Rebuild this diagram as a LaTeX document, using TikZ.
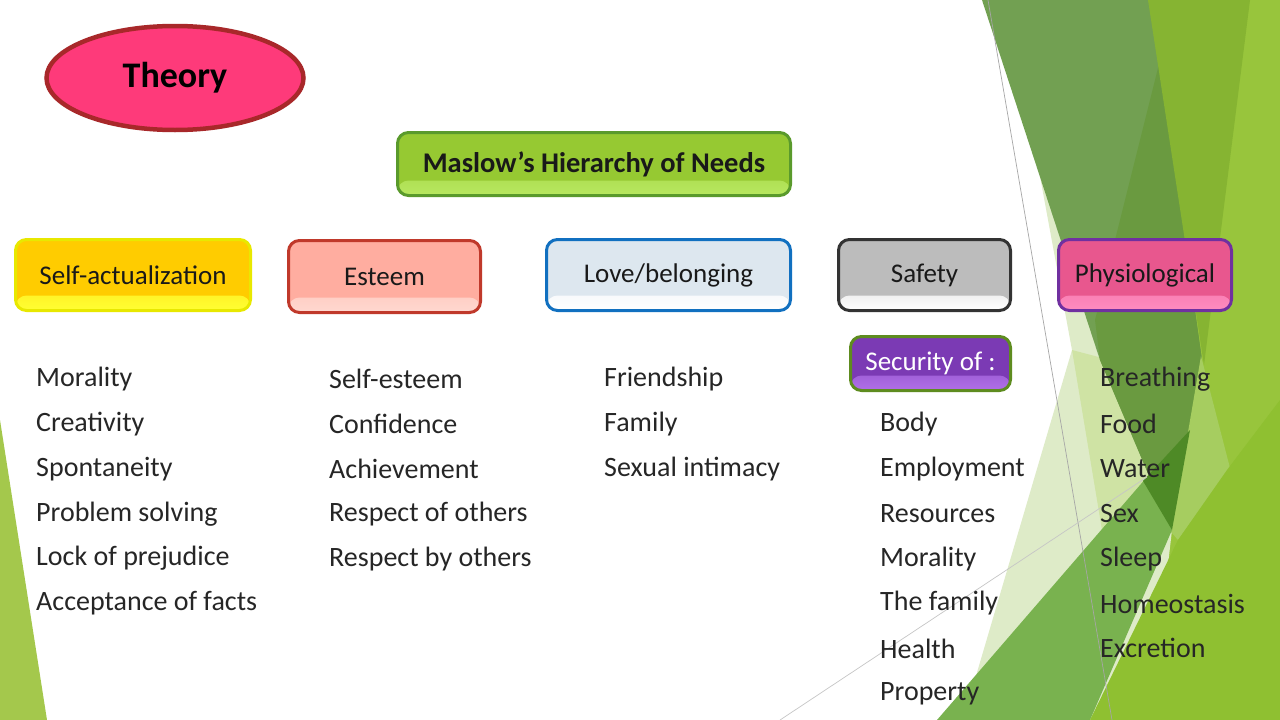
\documentclass[tikz,border=0pt]{standalone}
\usepackage{fontspec}
\setmainfont{Carlito}
\usetikzlibrary{shapes.geometric}

\definecolor{theoryfill}{HTML}{FE3A7A}
\definecolor{theoryline}{HTML}{A8282A}
\definecolor{maslowfill}{HTML}{96C932}
\definecolor{maslowline}{HTML}{5A9A2C}
\definecolor{maslowgloss}{HTML}{B8E860}
\definecolor{selffill}{HTML}{FFCC00}
\definecolor{selfline}{HTML}{E8E800}
\definecolor{selfgloss}{HTML}{FFFF33}
\definecolor{esteemfill}{HTML}{FFADA0}
\definecolor{esteemline}{HTML}{C0392B}
\definecolor{esteemgloss}{HTML}{FFD8D0}
\definecolor{lovefill}{HTML}{DDE7EF}
\definecolor{loveline}{HTML}{1170C0}
\definecolor{safetyfill}{HTML}{BCBCBC}
\definecolor{safetyline}{HTML}{333333}
\definecolor{physfill}{HTML}{E8578E}
\definecolor{physline}{HTML}{7030A0}
\definecolor{physgloss}{HTML}{FF8CC0}
\definecolor{securfill}{HTML}{7B3AB4}
\definecolor{securline}{HTML}{5E8C1F}
\definecolor{securgloss}{HTML}{B070E8}
\definecolor{facetleft}{HTML}{A4C84C}
\definecolor{facetpale}{HTML}{DEEBC8}
\definecolor{facetpaleb}{HTML}{CFE3A4}
\definecolor{facetgray}{HTML}{72A052}
\definecolor{facetdark}{HTML}{6A9A40}
\definecolor{facetolive}{HTML}{86B432}
\definecolor{facetlime}{HTML}{98C53C}
\definecolor{facetmid}{HTML}{79B24F}
\definecolor{facetdeep}{HTML}{4E8A26}
\definecolor{facetbright}{HTML}{8FC031}
\definecolor{facetstripe}{HTML}{A6CD60}

\tikzset{
  needbox/.style n args={3}{draw=#2, fill=#1, line width=3pt, rounded corners=11pt,
    inner sep=0pt, text=black!90, font=\fontsize{27}{30}\selectfont,
    path picture={\shade[top color=#1, bottom color=#3]
      ([yshift=15pt]path picture bounding box.south west) rectangle
      (path picture bounding box.south east);}},
  item/.style={anchor=west, inner sep=0pt, text=black!85,
    font=\fontsize{28}{32}\selectfont},
}

\begin{document}
\begin{tikzpicture}[x=1pt, y=-1pt]
  % Page
  \useasboundingbox (0,0) rectangle (1280,720);
  \fill[white] (0,0) rectangle (1280,720);

  % Facets
  \fill[facetleft] (0,420) -- (47,720) -- (0,720) -- cycle;
  \fill[facetlime] (1140,0) -- (1280,0) -- (1280,720) -- (1090,720) -- (1172,530) -- (1200,360) -- cycle;
  \fill[facetpale] (1037,160) -- (1072,350) -- (963,720) -- (1150,720) -- (1172,530) -- (1100,360) -- cycle;
  \fill[facetpaleb] (1072,350) -- (1110,360) -- (1167,487) -- (1105,548) -- cycle;
  \fill[facetgray] (982,0) -- (1150,0) -- (1202,360) -- (1172,530) -- (1100,360) -- cycle;
  \fill[facetdark] (1160,60) -- (1202,360) -- (1172,530) -- (1100,360) -- (1095,320) -- cycle;
  \fill[facetolive] (1148,0) -- (1250,0) -- (1204,365) -- cycle;
  \fill[facetstripe] (1201,356) -- (1230,468) -- (1178,540) -- (1171,532) -- cycle;
  \fill[facetmid] (937,720) -- (1147,477) -- (1172,530) -- (1090,720) -- cycle;
  \fill[facetdeep] (1143,481) -- (1190,430) -- (1172,530) -- cycle;
  \fill[facetbright] (1090,720) -- (1178,540) -- (1227,470) -- (1280,400) -- (1280,720) -- cycle;
  \draw[gray!70, line width=0.7pt] (988,0) -- (1112,720);
  \draw[gray!45, line width=0.7pt] (780,720) -- (1147,477);

  % Title
  \node[ellipse, draw=theoryline, fill=theoryfill, line width=4.5pt, inner sep=0pt,
    minimum width=257pt, minimum height=104pt,
    font=\fontsize{36}{40}\selectfont\bfseries] (theory) at (175,78) {Theory};
  \node[needbox={maslowfill}{maslowline}{maslowgloss}, minimum width=393pt, minimum height=63pt,
    font=\fontsize{28.5}{32}\selectfont\bfseries] (maslow) at (594,164) {Maslow’s Hierarchy of Needs};

  % Needs
  \node[needbox={selffill}{selfline}{selfgloss}, minimum width=235pt, minimum height=71pt] (selfact) at (133,275) {Self-actualization};
  \node[needbox={esteemfill}{esteemline}{esteemgloss}, minimum width=192pt, minimum height=72pt] (esteem) at (384.5,276.5) {Esteem};
  \node[needbox={lovefill}{loveline}{white}, minimum width=244pt, minimum height=71pt] (love) at (668.5,275) {Love/belonging};
  \node[needbox={safetyfill}{safetyline}{white}, minimum width=172pt, minimum height=71pt] (safety) at (924.5,275) {Safety};
  \node[needbox={physfill}{physline}{physgloss}, minimum width=173pt, minimum height=71pt] (physio) at (1145,275) {Physiological};
  \node[needbox={securfill}{securline}{securgloss}, minimum width=160pt, minimum height=54pt, text=white] (security) at (930.5,363.5) {Security of :};

  % Lists
  \foreach \t [count=\i] in {Morality, Creativity, Spontaneity, Problem solving, Lock of prejudice, Acceptance of facts}
    \node[item] (sa\i) at (36,{334.1+44.9*\i}) {\t};
  \foreach \t [count=\i] in {Self-esteem, Confidence, Achievement, Respect of others, Respect by others}
    \node[item] (es\i) at (329,{334.1+44.9*\i}) {\t};
  \foreach \t [count=\i] in {Friendship, Family, Sexual intimacy}
    \node[item] (lb\i) at (604,{334.1+44.9*\i}) {\t};
  \foreach \t [count=\i from 2] in {Body, Employment, Resources, Morality, The family, Health, Property}
    \node[item] (sf\i) at (880,{334.1+44.9*\i}) {\t};
  \foreach \t [count=\i] in {Breathing, Food, Water, Sex, Sleep, Homeostasis, Excretion}
    \node[item] (ph\i) at (1100,{334.1+44.9*\i}) {\t};
\end{tikzpicture}
\end{document}
